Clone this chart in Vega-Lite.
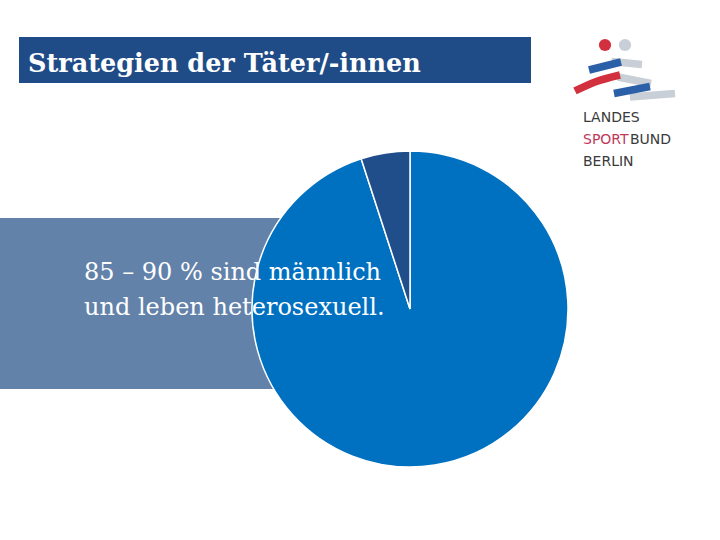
{
  "$schema": "https://vega.github.io/schema/vega-lite/v6.json",
  "width": 720,
  "height": 540,
  "autosize": {"type": "fit", "contains": "padding"},
  "padding": 0,
  "background": "white",
  "view": {"stroke": null},
  "datasets": {
    "boxes": [
      {"name": "title", "x0": 19, "x1": 531, "y0": 37, "y1": 83},
      {"name": "panel", "x0": 0, "x1": 330, "y0": 218, "y1": 389}
    ],
    "pie": [
      {"group": "Anteil A", "value": 95, "cx": 410, "cy": 309},
      {"group": "Anteil B", "value": 5, "cx": 410, "cy": 309}
    ],
    "stripes": [
      {"stripe": "grau1", "x": 611.5, "y": 61.5},
      {"stripe": "grau1", "x": 642, "y": 64.5},
      {"stripe": "grau2", "x": 618, "y": 77},
      {"stripe": "grau2", "x": 651, "y": 83.5},
      {"stripe": "grau3", "x": 630, "y": 97},
      {"stripe": "grau3", "x": 675, "y": 93.5},
      {"stripe": "blau1", "x": 589, "y": 70},
      {"stripe": "blau1", "x": 621, "y": 62},
      {"stripe": "rot", "x": 575, "y": 91},
      {"stripe": "rot", "x": 595, "y": 82},
      {"stripe": "rot", "x": 620, "y": 75},
      {"stripe": "blau2", "x": 614, "y": 93.5},
      {"stripe": "blau2", "x": 650, "y": 86.5}
    ],
    "dots": [
      {"dot": "rot", "x": 605, "y": 45},
      {"dot": "grau", "x": 625, "y": 45}
    ],
    "titletext": [
      {"text": "Strategien der Täter/-innen", "x": 28, "y": 72}
    ],
    "bodytext": [
      {"text": "85 – 90 % sind männlich", "x": 84, "y": 280},
      {"text": "und leben heterosexuell.", "x": 84, "y": 315}
    ],
    "logotext": [
      {"text": "LANDES", "part": "grau", "x": 583, "y": 122},
      {"text": "SPORT", "part": "rot", "x": 583, "y": 144},
      {"text": "BUND", "part": "grau", "x": 630, "y": 144},
      {"text": "BERLIN", "part": "grau", "x": 583, "y": 166}
    ]
  },
  "layer": [
    {
      "data": {"name": "boxes"},
      "mark": {"type": "rect"},
      "encoding": {
        "x": {"field": "x0", "type": "quantitative", "scale": {"domain": [0, 720], "nice": false, "zero": false}, "axis": null},
        "x2": {"field": "x1"},
        "y": {"field": "y0", "type": "quantitative", "scale": {"domain": [0, 540], "nice": false, "zero": false, "reverse": true}, "axis": null},
        "y2": {"field": "y1"},
        "color": {"field": "name", "type": "nominal", "scale": {"domain": ["title", "panel"], "range": ["#1F4C87", "#6282AA"]}, "legend": null}
      }
    },
    {
      "data": {"name": "pie"},
      "mark": {"type": "arc", "outerRadius": 158, "stroke": "white", "strokeWidth": 1.5},
      "encoding": {
        "x": {"field": "cx", "type": "quantitative"},
        "y": {"field": "cy", "type": "quantitative"},
        "theta": {"field": "value", "type": "quantitative", "stack": true},
        "order": {"field": "value", "sort": "descending"},
        "color": {"field": "group", "type": "nominal", "scale": {"domain": ["Anteil A", "Anteil B"], "range": ["#0070C0", "#1F4E8A"]}, "legend": null}
      }
    },
    {
      "data": {"name": "stripes"},
      "mark": {"type": "line", "strokeWidth": 7.5, "strokeCap": "butt", "interpolate": "monotone"},
      "encoding": {
        "x": {"field": "x", "type": "quantitative"},
        "y": {"field": "y", "type": "quantitative"},
        "detail": {"field": "stripe"},
        "color": {"field": "stripe", "type": "nominal", "scale": {"domain": ["grau1", "grau2", "grau3", "blau1", "rot", "blau2"], "range": ["#C9CFD7", "#C9CFD7", "#C9CFD7", "#2B5FA8", "#D3303F", "#2B5FA8"]}, "legend": null}
      }
    },
    {
      "data": {"name": "dots"},
      "mark": {"type": "circle", "size": 150, "opacity": 1},
      "encoding": {
        "x": {"field": "x", "type": "quantitative"},
        "y": {"field": "y", "type": "quantitative"},
        "color": {"field": "dot", "type": "nominal", "scale": {"domain": ["rot", "grau"], "range": ["#D3303F", "#C9CFD7"]}, "legend": null}
      }
    },
    {
      "data": {"name": "titletext"},
      "mark": {"type": "text", "align": "left", "baseline": "alphabetic", "font": "DejaVu Serif", "fontSize": 25.5, "fontWeight": "bold", "color": "white"},
      "encoding": {
        "x": {"field": "x", "type": "quantitative"},
        "y": {"field": "y", "type": "quantitative"},
        "text": {"field": "text"}
      }
    },
    {
      "data": {"name": "bodytext"},
      "mark": {"type": "text", "align": "left", "baseline": "alphabetic", "font": "DejaVu Serif", "fontSize": 24, "color": "white"},
      "encoding": {
        "x": {"field": "x", "type": "quantitative"},
        "y": {"field": "y", "type": "quantitative"},
        "text": {"field": "text"}
      }
    },
    {
      "data": {"name": "logotext"},
      "mark": {"type": "text", "align": "left", "baseline": "alphabetic", "font": "DejaVu Sans", "fontSize": 14},
      "encoding": {
        "x": {"field": "x", "type": "quantitative"},
        "y": {"field": "y", "type": "quantitative"},
        "text": {"field": "text"},
        "color": {"field": "part", "type": "nominal", "scale": {"domain": ["rot", "grau"], "range": ["#C0395A", "#3A3A3A"]}, "legend": null}
      }
    }
  ],
  "resolve": {"scale": {"color": "independent"}}
}
